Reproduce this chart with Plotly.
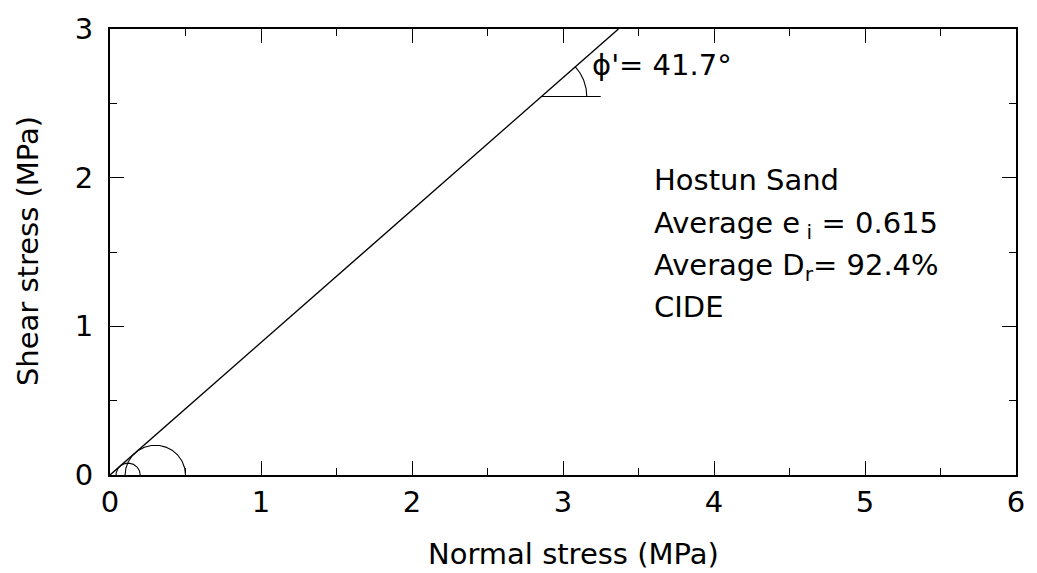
import numpy as np
import plotly.graph_objects as go

# ---- data ----
phi_deg = 41.7                      # friction angle
sigma3 = [0.04, 0.10]               # minor principal stress of each Mohr circle (MPa)
sigma1 = [0.20, 0.50]               # major principal stress of each Mohr circle (MPa)
x_ticks = [0, 1, 2, 3, 4, 5, 6]
y_ticks = [0, 1, 2, 3]
info_lines = ["Hostun Sand", "Average e<sub> i</sub> = 0.615",
              "Average D<sub>r</sub>= 92.4%", "CIDE"]
info_y = [1.985, 1.68, 1.40, 1.128]
angle_label = "\u03d5'= 41.7\u00b0"

# ---- geometry ----
tanphi = np.tan(np.radians(phi_deg))
y_top = 3.0
env_x = [0, y_top / tanphi]
env_y = [0, y_top]

FONT = "DejaVu Sans"
FS = 29
LW = 1.4

fig = go.Figure()
fig.add_trace(go.Scatter(x=env_x, y=env_y, mode="lines",
                         line=dict(color="black", width=LW), hoverinfo="skip"))

t = np.linspace(0, np.pi, 200)
for s3, s1 in zip(sigma3, sigma1):
    c = (s1 + s3) / 2
    r = (s1 - s3) / 2
    fig.add_trace(go.Scatter(x=c + r * np.cos(t), y=r * np.sin(t), mode="lines",
                             line=dict(color="black", width=1.1), hoverinfo="skip"))

# angle marker
arc_y = 2.546
arc_x = arc_y / tanphi
arc_r = 0.3
fig.add_trace(go.Scatter(x=[arc_x, 3.25], y=[arc_y, arc_y], mode="lines",
                         line=dict(color="black", width=1.1), hoverinfo="skip"))
ta = np.linspace(0, np.radians(phi_deg), 60)
fig.add_trace(go.Scatter(x=arc_x + arc_r * np.cos(ta), y=arc_y + arc_r * np.sin(ta),
                         mode="lines", line=dict(color="black", width=1.1), hoverinfo="skip"))

fig.add_annotation(x=3.18, y=2.755, xref="x", yref="y", text=angle_label,
                   showarrow=False, xanchor="left", yanchor="middle",
                   font=dict(family=FONT, size=FS, color="black"))

for txt, yy in zip(info_lines, info_y):
    fig.add_annotation(x=3.59, y=yy, xref="x", yref="y", text=txt,
                       showarrow=False, xanchor="left", yanchor="middle",
                       font=dict(family=FONT, size=FS, color="black"))

# axis titles (paper coords relative to the plot area)
PL, PR, PT, PB = 110, 1022, 18, 475
fig.add_annotation(x=(577 - PL) / (PR - PL), y=(PB - 556) / (PB - PT),
                   xref="paper", yref="paper",
                   text="Normal stress (MPa)", showarrow=False,
                   xanchor="center", yanchor="middle",
                   font=dict(family=FONT, size=FS, color="black"))
fig.add_annotation(x=(27 - PL) / (PR - PL), y=(PB - 246) / (PB - PT),
                   xref="paper", yref="paper",
                   text="Shear stress (MPa)", showarrow=False, textangle=-90,
                   xanchor="center", yanchor="middle",
                   font=dict(family=FONT, size=FS, color="black"))

axis_common = dict(showline=True, linecolor="black", linewidth=2, mirror="ticks",
                   ticks="inside", ticklen=14, tickwidth=1.3, tickcolor="black",
                   showgrid=False, zeroline=False,
                   tickfont=dict(family=FONT, size=FS, color="black"),
                   minor=dict(ticks="inside", ticklen=7, tickwidth=1.3,
                              tickcolor="black", dtick=0.5, showgrid=False))

fig.update_xaxes(range=[0, 6], tickvals=x_ticks, ticktext=[str(v) for v in x_ticks],
                 ticklabelstandoff=0, **axis_common)
fig.update_yaxes(range=[0, 3], tickvals=y_ticks, ticktext=[str(v) for v in y_ticks],
                 ticklabelstandoff=9, **axis_common)

fig.update_layout(width=1037, height=573, showlegend=False,
                  margin=dict(l=PL, r=1037 - PR, t=PT, b=573 - PB),
                  plot_bgcolor="white", paper_bgcolor="white")

fig.write_html("out.html")
